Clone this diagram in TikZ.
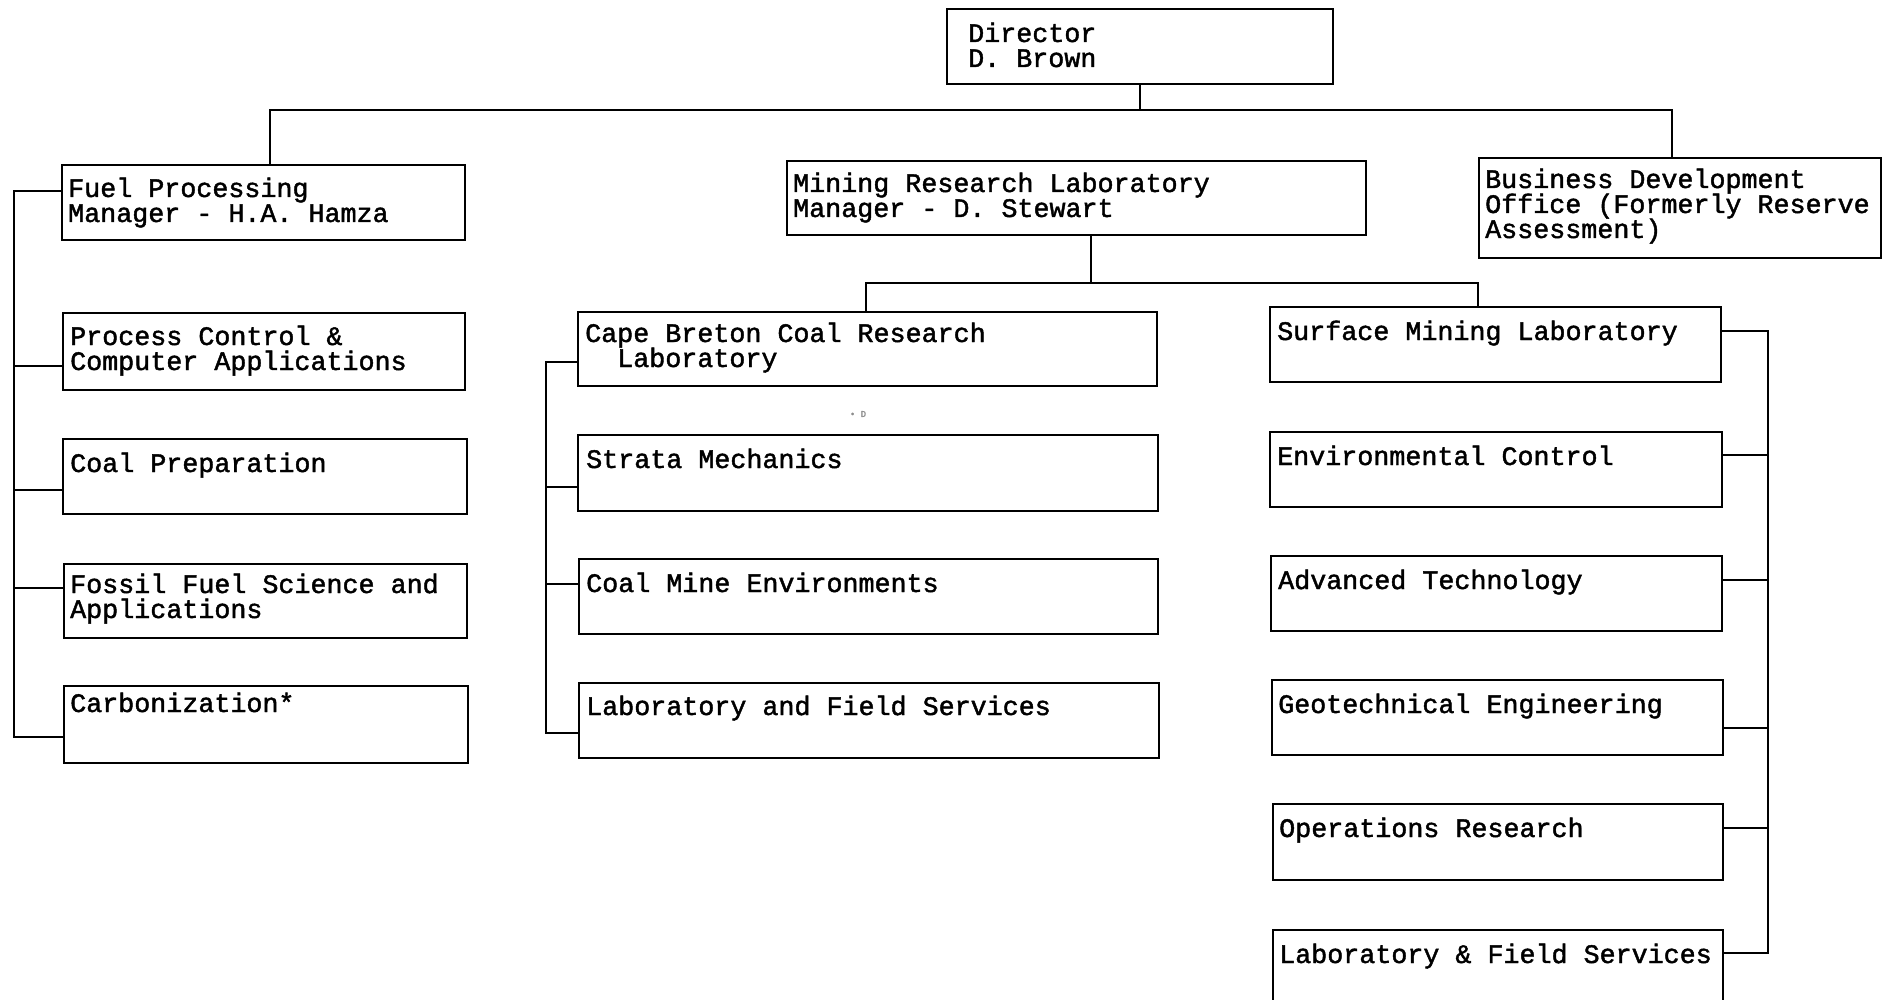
\documentclass[tikz,border=0pt]{standalone}
\usepackage{fontspec}
\setmainfont{Liberation Mono}[FakeBold=1.6]
\usetikzlibrary{calc}

% Units: 1pt per unit, y grows downward
\tikzset{
  orgbox/.style={draw, line width=2.4pt, rectangle, inner sep=0pt, anchor=north west},
  orgtext/.style={anchor=base west, inner sep=0pt, align=left,
                  font=\fontsize{26.7}{25}\selectfont},
  wire/.style={line width=2.2pt, line cap=rect},
}

% #1 name, #2-#5 box corners (x1,y1,x2,y2), #6-#7 start of the last baseline, #8 text
\newcommand\orgunit[8]{%
  \node[orgbox, minimum width={(#4-#2)*1pt}, minimum height={(#5-#3)*1pt}] (#1) at (#2,#3) {};
  \node[orgtext] (#1-t) at (#6,#7) {#8};
}

\begin{document}
\begin{tikzpicture}[x=1pt, y=-1pt]
\fill[white] (0,0) rectangle (1892,1000);
\useasboundingbox (0,0) rectangle (1892,1000);
\clip (0,0) rectangle (1892,1000);

% top level
\orgunit{dir}{946}{8}{1332}{83}{968}{67}{Director\\D. Brown}
\orgunit{fuel}{61}{164}{464}{239}{68}{222}{Fuel Processing\\Manager - H.A. Hamza}
\orgunit{mining}{786}{160}{1365}{234}{793}{217}{Mining Research Laboratory\\Manager - D. Stewart}
\orgunit{biz}{1478}{157}{1880}{257}{1485}{238}{Business Development\\Office (Formerly Reserve\\Assessment)}

% fuel processing units
\orgunit{process}{62}{312}{464}{389}{70}{370}{Process Control \&\\Computer Applications}
\orgunit{coalprep}{62}{438}{466}{513}{70}{472}{Coal Preparation}
\orgunit{fossil}{63}{563}{466}{637}{70}{618}{Fossil Fuel Science and\\Applications}
\orgunit{carb}{63}{685}{467}{762}{70}{712}{Carbonization*}

% Cape Breton units
\orgunit{cape}{577}{311}{1156}{385}{585}{367}{Cape Breton Coal Research\\\phantom{Ca}Laboratory}
\orgunit{strata}{577}{434}{1157}{510}{586}{468}{Strata Mechanics}
\orgunit{coalmine}{578}{558}{1157}{633}{586}{592}{Coal Mine Environments}
\orgunit{labfield}{578}{682}{1158}{757}{586}{715}{Laboratory and Field Services}

% surface mining units
\orgunit{surface}{1269}{306}{1720}{381}{1277}{340}{Surface Mining Laboratory}
\orgunit{env}{1269}{431}{1721}{506}{1277}{465}{Environmental Control}
\orgunit{adv}{1270}{555}{1721}{630}{1278}{589}{Advanced Technology}
\orgunit{geo}{1271}{679}{1722}{754}{1278}{713}{Geotechnical Engineering}
\orgunit{ops}{1272}{803}{1722}{879}{1279}{837}{Operations Research}
\orgunit{labfs}{1272}{929}{1722}{1004}{1279}{963}{Laboratory \& Field Services}

% stray mark
\node[inner sep=0pt, font=\fontsize{9}{9}\selectfont, text=black!45] (mark) at (858,414) {\textbullet\ D};

% director level connectors
\coordinate (jl) at (270,110);
\coordinate (jr) at (1672,110);
\draw[wire] (dir.south) -- (dir.south |- jl);
\draw[wire] (jl |- fuel.north) -- (jl) -- (jr) -- (jr |- biz.north);

% mining laboratory connectors
\coordinate (mj) at (1091,283);
\coordinate (ml) at (866,283);
\coordinate (mr) at (1478,283);
\draw[wire] (mj |- mining.south) -- (mj);
\draw[wire] (ml |- cape.north) -- (ml) -- (mr) -- (mr |- surface.north);

% fuel processing bus
\draw[wire] (fuel.west |- 0,191) -- (14,191) -- (14,737) -- (carb.west |- 0,737);
\foreach \n/\y in {process/366, coalprep/490, fossil/588}
  \draw[wire] (14,\y) -- (\n.west |- 0,\y);

% Cape Breton bus
\draw[wire] (cape.west |- 0,362) -- (546,362) -- (546,733) -- (labfield.west |- 0,733);
\foreach \n/\y in {strata/487, coalmine/584}
  \draw[wire] (546,\y) -- (\n.west |- 0,\y);

% surface mining bus
\draw[wire] (surface.east |- 0,331) -- (1768,331) -- (1768,953) -- (labfs.east |- 0,953);
\foreach \n/\y in {env/455, adv/580, geo/728, ops/828}
  \draw[wire] (1768,\y) -- (\n.east |- 0,\y);
\end{tikzpicture}
\end{document}
